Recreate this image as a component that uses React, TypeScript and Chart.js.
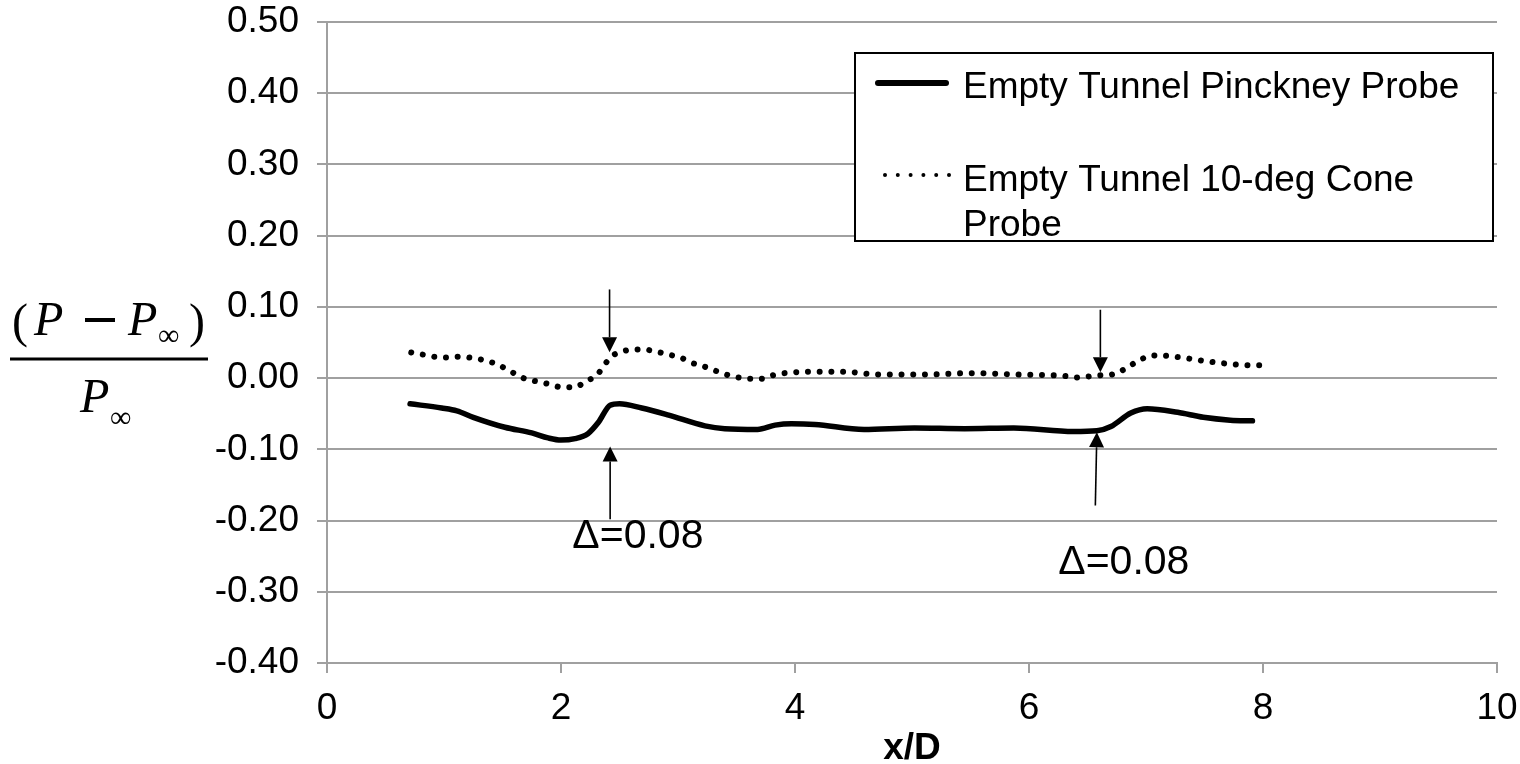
import React, { useEffect, useRef } from "react";
import { Chart, registerables } from "chart.js";

Chart.register(...registerables);

// ---------- data ----------
const seriesLabels = ["Empty Tunnel Pinckney Probe", "Empty Tunnel 10-deg Cone Probe"];

const pinckneyX = [0.71, 0.98, 1.11, 1.25, 1.52, 1.75, 1.89, 2.0, 2.12, 2.23, 2.32, 2.42, 2.5, 2.69, 2.92, 3.23, 3.4, 3.68, 3.83, 3.97, 4.17, 4.59, 5.02, 5.45, 5.87, 6.38, 6.58, 6.7, 6.87, 7.01, 7.27, 7.49, 7.72, 7.91];
const pinckneyY = [-0.036, -0.042, -0.046, -0.055, -0.069, -0.077, -0.084, -0.087, -0.085, -0.078, -0.062, -0.038, -0.036, -0.042, -0.052, -0.067, -0.071, -0.072, -0.066, -0.064, -0.065, -0.072, -0.07, -0.071, -0.07, -0.075, -0.074, -0.068, -0.049, -0.043, -0.048, -0.055, -0.059, -0.06];

const coneX = [0.72, 0.82, 0.92, 1.02, 1.12, 1.21, 1.32, 1.41, 1.52, 1.62, 1.71, 1.81, 1.91, 2.01, 2.11, 2.21, 2.31, 2.35, 2.42, 2.52, 2.61, 2.71, 2.82, 2.92, 3.02, 3.11, 3.21, 3.31, 3.41, 3.51, 3.61, 3.71, 3.81, 3.91, 4.21, 4.41, 4.71, 5.1, 5.5, 5.9, 6.3, 6.4, 6.61, 6.71, 6.81, 6.91, 7.01, 7.1, 7.3, 7.5, 7.71, 7.89, 8.0];
const coneY = [0.036, 0.033, 0.03, 0.029, 0.03, 0.029, 0.026, 0.022, 0.014, 0.005, -0.002, -0.005, -0.009, -0.013, -0.013, -0.005, 0.005, 0.013, 0.029, 0.037, 0.04, 0.04, 0.037, 0.033, 0.029, 0.022, 0.017, 0.011, 0.005, 0.001, -0.001, -0.001, 0.004, 0.007, 0.009, 0.009, 0.005, 0.005, 0.007, 0.005, 0.003, 0.001, 0.004, 0.005, 0.012, 0.022, 0.03, 0.032, 0.029, 0.024, 0.02, 0.018, 0.018];

const xMin = 0;
const xMax = 10;
const xStep = 2;
const yMin = -0.4;
const yMax = 0.5;
const yStep = 0.1;
const xTitle = "x/D";

// annotation arrows (data coordinates): start -> tip
const arrowStartX = [2.415, 2.42, 6.61, 6.567];
const arrowStartY = [0.1245, -0.198, 0.096, -0.179];
const arrowTipX = [2.415, 2.42, 6.61, 6.58];
const arrowTipY = [0.0364, -0.096, 0.0083, -0.076];

const noteText = ["Δ=0.08", "Δ=0.08"];
const noteX = [2.097, 6.25];
const noteY = [-0.222, -0.259];

const SANS = '"Liberation Sans", Arial, Helvetica, sans-serif';
const SERIF = '"Liberation Serif", "Times New Roman", serif';
const GRID = "#a0a0a0";

const annotationPlugin = {
  id: "annotations",
  afterDatasetsDraw(chart: any) {
    const { ctx } = chart;
    const xs = chart.scales.x;
    const ys = chart.scales.y;
    ctx.save();
    ctx.strokeStyle = "#000";
    ctx.fillStyle = "#000";
    ctx.lineWidth = 1.6;
    for (let i = 0; i < arrowStartX.length; i++) {
      const x0 = xs.getPixelForValue(arrowStartX[i]);
      const y0 = ys.getPixelForValue(arrowStartY[i]);
      const x1 = xs.getPixelForValue(arrowTipX[i]);
      const y1 = ys.getPixelForValue(arrowTipY[i]);
      const len = Math.hypot(x1 - x0, y1 - y0);
      const ux = (x1 - x0) / len;
      const uy = (y1 - y0) / len;
      const headL = 15;
      const headW = 7.5;
      const bx = x1 - ux * headL;
      const by = y1 - uy * headL;
      ctx.beginPath();
      ctx.moveTo(x0, y0);
      ctx.lineTo(bx, by);
      ctx.stroke();
      ctx.beginPath();
      ctx.moveTo(x1, y1);
      ctx.lineTo(bx - uy * headW, by + ux * headW);
      ctx.lineTo(bx + uy * headW, by - ux * headW);
      ctx.closePath();
      ctx.fill();
    }
    ctx.font = `41px ${SANS}`;
    ctx.textAlign = "left";
    ctx.textBaseline = "middle";
    for (let i = 0; i < noteText.length; i++) {
      ctx.fillText(noteText[i], xs.getPixelForValue(noteX[i]), ys.getPixelForValue(noteY[i]));
    }
    ctx.restore();
  },
};

function wrapText(ctx: CanvasRenderingContext2D, text: string, maxW: number): string[] {
  const words = text.split(" ");
  const lines: string[] = [];
  let cur = "";
  for (const w of words) {
    const t = cur ? cur + " " + w : w;
    if (ctx.measureText(t).width > maxW && cur) {
      lines.push(cur);
      cur = w;
    } else {
      cur = t;
    }
  }
  if (cur) lines.push(cur);
  return lines;
}

const decorPlugin = {
  id: "decor",
  afterDraw(chart: any) {
    const { ctx, chartArea } = chart;
    ctx.save();
    // ---- legend ----
    const bL = 855;
    const bT = 53;
    const bR = chartArea.right - 4;
    const bB = 241;
    ctx.fillStyle = "#fff";
    ctx.fillRect(bL, bT, bR - bL, bB - bT);
    ctx.strokeStyle = "#000";
    ctx.lineWidth = 2;
    ctx.strokeRect(bL, bT, bR - bL, bB - bT);

    // solid sample
    ctx.beginPath();
    ctx.lineWidth = 6;
    ctx.lineCap = "round";
    ctx.moveTo(878, 83);
    ctx.lineTo(946, 83);
    ctx.stroke();
    // dotted sample
    ctx.fillStyle = "#000";
    for (let i = 0; i < 6; i++) {
      ctx.beginPath();
      ctx.arc(885 + i * 12.8, 175, 2.0, 0, Math.PI * 2);
      ctx.fill();
    }
    ctx.font = `37px ${SANS}`;
    ctx.textAlign = "left";
    ctx.textBaseline = "middle";
    const textL = 963;
    const maxW = bR - textL - 10;
    const l1 = wrapText(ctx, chart.data.datasets[0].label, maxW);
    l1.forEach((s: string, k: number) => ctx.fillText(s, textL, 88 + k * 45));
    const l2 = wrapText(ctx, chart.data.datasets[1].label, maxW);
    l2.forEach((s: string, k: number) => ctx.fillText(s, textL, 181 + k * 45));

    // ---- y axis title: (P − P∞) / P∞ ----
    ctx.textBaseline = "alphabetic";
    ctx.textAlign = "left";
    const nb = 335;
    ctx.font = `48px ${SERIF}`;
    ctx.fillText("(", 12, nb + 2);
    ctx.font = `italic 48px ${SERIF}`;
    ctx.fillText("P", 34, nb);
    ctx.fillRect(85, 318, 30, 4);
    ctx.font = `italic 48px ${SERIF}`;
    ctx.fillText("P", 128, nb);
    ctx.font = `30px ${SERIF}`;
    ctx.fillText("\u221E", 158, nb + 10);
    ctx.font = `48px ${SERIF}`;
    ctx.fillText(")", 189, nb + 2);
    ctx.fillRect(10, 357.5, 198, 3);
    ctx.font = `italic 48px ${SERIF}`;
    ctx.fillText("P", 80, 412);
    ctx.font = `30px ${SERIF}`;
    ctx.fillText("\u221E", 110, 427);
    ctx.restore();
  },
};

export default function App() {
  const ref = useRef<HTMLCanvasElement | null>(null);
  useEffect(() => {
    if (!ref.current) return;
    const chart = new Chart(ref.current, {
      type: "line",
      data: {
        datasets: [
          {
            label: seriesLabels[0],
            data: pinckneyX.map((x, i) => ({ x, y: pinckneyY[i] })),
            borderColor: "#000",
            borderWidth: 5.5,
            pointRadius: 0,
            cubicInterpolationMode: "monotone",
            borderCapStyle: "round",
            borderJoinStyle: "round",
            fill: false,
          },
          {
            label: seriesLabels[1],
            data: coneX.map((x, i) => ({ x, y: coneY[i] })),
            borderColor: "#000",
            borderWidth: 6,
            borderDash: [0.01, 11.7],
            borderCapStyle: "round",
            pointRadius: 0,
            cubicInterpolationMode: "monotone",
            fill: false,
          },
        ],
      },
      options: {
        animation: false,
        responsive: false,
        devicePixelRatio: 1,
        layout: { padding: { top: 22, right: 23, left: 0, bottom: 0 } },
        plugins: { legend: { display: false }, tooltip: { enabled: false } },
        scales: {
          x: {
            type: "linear",
            min: xMin,
            max: xMax,
            ticks: { stepSize: xStep, font: { family: SANS, size: 37 }, color: "#000", padding: 14, maxRotation: 0 },
            grid: { drawOnChartArea: false, drawTicks: true, tickLength: 10, color: GRID, lineWidth: 2 },
            border: { color: GRID, width: 2 },
            title: {
              display: true,
              text: xTitle,
              color: "#000",
              font: { family: SANS, size: 37, weight: "bold", lineHeight: 0.8 },
              padding: { top: 0, bottom: 0 },
            },
            afterFit: (s: any) => {
              s.height = 101;
              s.paddingLeft = 0;
              s.paddingRight = 0;
            },
          },
          y: {
            type: "linear",
            min: yMin,
            max: yMax,
            ticks: {
              stepSize: yStep,
              font: { family: SANS, size: 37 },
              color: "#000",
              padding: 18,
              callback: (v: any) => {
                const n = Number(v);
                return (Math.abs(n) < 1e-9 ? 0 : n).toFixed(2);
              },
            },
            grid: { color: GRID, lineWidth: 2, tickLength: 10 },
            border: { color: GRID, width: 2 },
            afterFit: (s: any) => {
              s.width = 327;
              s.paddingTop = 0;
              s.paddingBottom = 0;
            },
          },
        },
      } as any,
      plugins: [annotationPlugin, decorPlugin],
    });
    return () => chart.destroy();
  }, []);
  return (
    <div style={{ position: "fixed", left: 0, top: 0, width: 1520, height: 764, background: "#fff" }}>
      <canvas ref={ref} width={1520} height={764} style={{ display: "block" }} />
    </div>
  );
}
